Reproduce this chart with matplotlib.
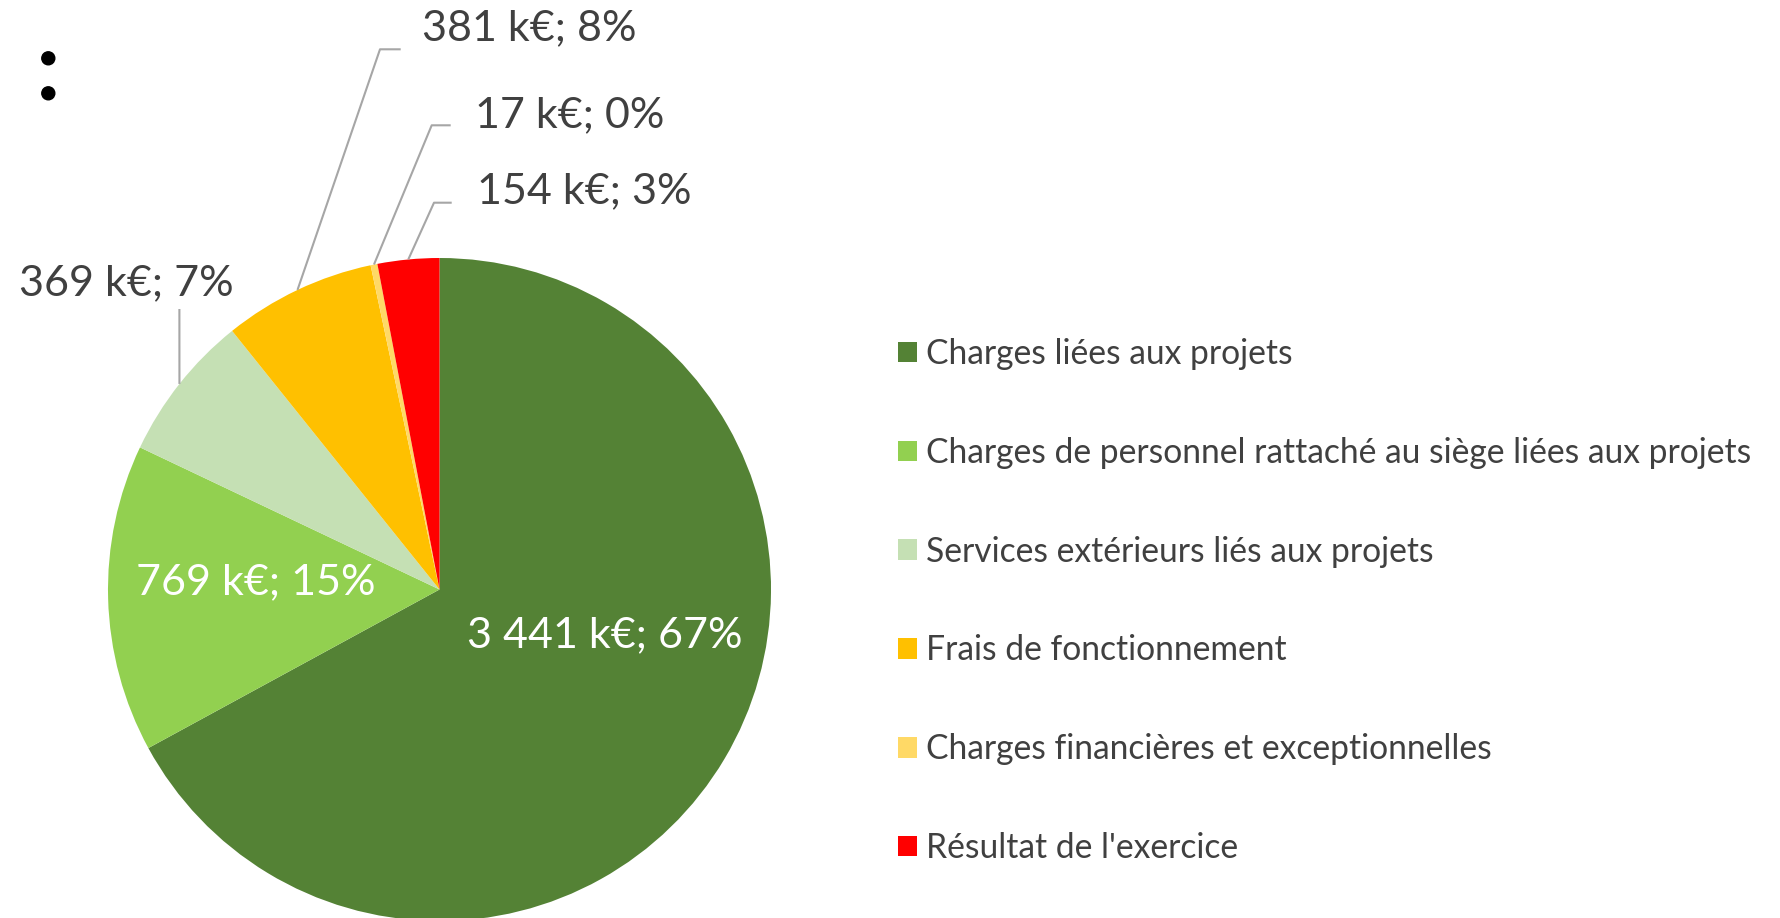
import matplotlib
matplotlib.use("Agg")
import matplotlib.pyplot as plt
from matplotlib.textpath import TextPath
from matplotlib.font_manager import FontProperties
from matplotlib.patches import Ellipse
import numpy as np

# ---------------- data ----------------
categories = [
    "Charges liées aux projets",
    "Charges de personnel rattaché au siège liées aux projets",
    "Services extérieurs liés aux projets",
    "Frais de fonctionnement",
    "Charges financières et exceptionnelles",
    "Résultat de l'exercice",
]
values_keur = [3441, 769, 369, 381, 17, 154]
percents = [67, 15, 7, 8, 0, 3]
colors = ["#548235", "#92D050", "#C5E0B4", "#FFC000", "#FFD966", "#FF0000"]

# ---------------- layout ----------------
W, H, DPI = 1781, 918, 100
CX, CY, R = 439.5, 589.5, 331.5
TEXT_COLOR = "#404040"
LINE_COLOR = "#A6A6A6"
FAMILY = ["Lato", "DejaVu Sans"]
fp = FontProperties(family="Lato")


def to_data(px, py):
    return (px - CX) / R, (CY - py) / R


def fit_size(s, target_px, prop=fp):
    w = TextPath((0, 0), s, size=100, prop=prop).get_extents().width
    return 100 * target_px / (w * DPI / 72)


def fmt(v, p):
    return f"{v:,}".replace(",", " ") + f" k€; {p}%"


labels = [fmt(v, p) for v, p in zip(values_keur, percents)]

fig = plt.figure(figsize=(W / DPI, H / DPI), dpi=DPI)
ax = fig.add_axes([0, 0, 1, 1])
wedges, _ = ax.pie(values_keur, colors=colors, startangle=90, counterclock=False,
                   radius=1, center=(0, 0), wedgeprops=dict(linewidth=0))
ax.set_xlim(-CX / R, (W - CX) / R)
ax.set_ylim((CY - H) / R, CY / R)
ax.set_aspect("auto")
ax.axis("off")

# label font size fitted to measured widths
targets = {0: 273, 1: 237, 2: 210, 3: 211, 4: 181, 5: 208}
fs = float(np.median([fit_size(labels[i], t) for i, t in targets.items()]))

# inside labels (white)
inside = {0: (604.4, 647), 1: (255.5, 594)}
for i, (px, py) in inside.items():
    x, y = to_data(px, py)
    ax.text(x, y, labels[i], color="white", fontsize=fs, family=FAMILY,
            ha="center", va="baseline")

# outside labels with leader lines
outside = {
    2: dict(text=(126.7, 295), ha="center", path=[(179.4, 309)]),
    3: dict(text=(421.7, 40), ha="left", path=[(380, 49.3), (400.7, 49.3)]),
    4: dict(text=(475, 127), ha="left", path=[(431.7, 125.3), (450.7, 125.3)]),
    5: dict(text=(476.7, 203), ha="left", path=[(434, 202.7), (451.7, 202.7)]),
}
for i, spec in outside.items():
    w = wedges[i]
    mid = np.deg2rad((w.theta1 + w.theta2) / 2)
    pts = [(np.cos(mid), np.sin(mid))] + [to_data(*p) for p in spec["path"]]
    xs, ys = zip(*pts)
    ax.plot(xs, ys, color=LINE_COLOR, lw=1.5, solid_capstyle="butt", zorder=3)
    x, y = to_data(*spec["text"])
    ax.text(x, y, labels[i], color=TEXT_COLOR, fontsize=fs, family=FAMILY,
            ha=spec["ha"], va="baseline")

# legend
fL = fit_size(categories[1], 823)
fLpx = fL * DPI / 72
pitch = 98.8
ls = 0.8


def make_legend(ls):
    return ax.legend(wedges, categories, loc="center left",
                     bbox_to_anchor=(898 / W, 1 - 601 / H),
                     bbox_transform=fig.transFigure, frameon=False,
                     prop=FontProperties(family=FAMILY, size=fL),
                     labelcolor=TEXT_COLOR, borderpad=0, borderaxespad=0,
                     handlelength=19 / fLpx, handleheight=19 / fLpx,
                     handletextpad=9 / fLpx, labelspacing=ls)


leg = make_legend(ls)
fig.canvas.draw()
hleg = leg.get_window_extent().height
row_h = (hleg - 5 * ls * fLpx) / 6
ls = (pitch - row_h) / fLpx
leg.remove()
leg = make_legend(ls)

# two bullet dots at top-left
for py in (58.3, 93.3):
    fig.add_artist(Ellipse((48.3 / W, 1 - py / H), 13 / W, 13 / H,
                           transform=fig.transFigure, color="black"))

fig.savefig("out.png", dpi=DPI)
